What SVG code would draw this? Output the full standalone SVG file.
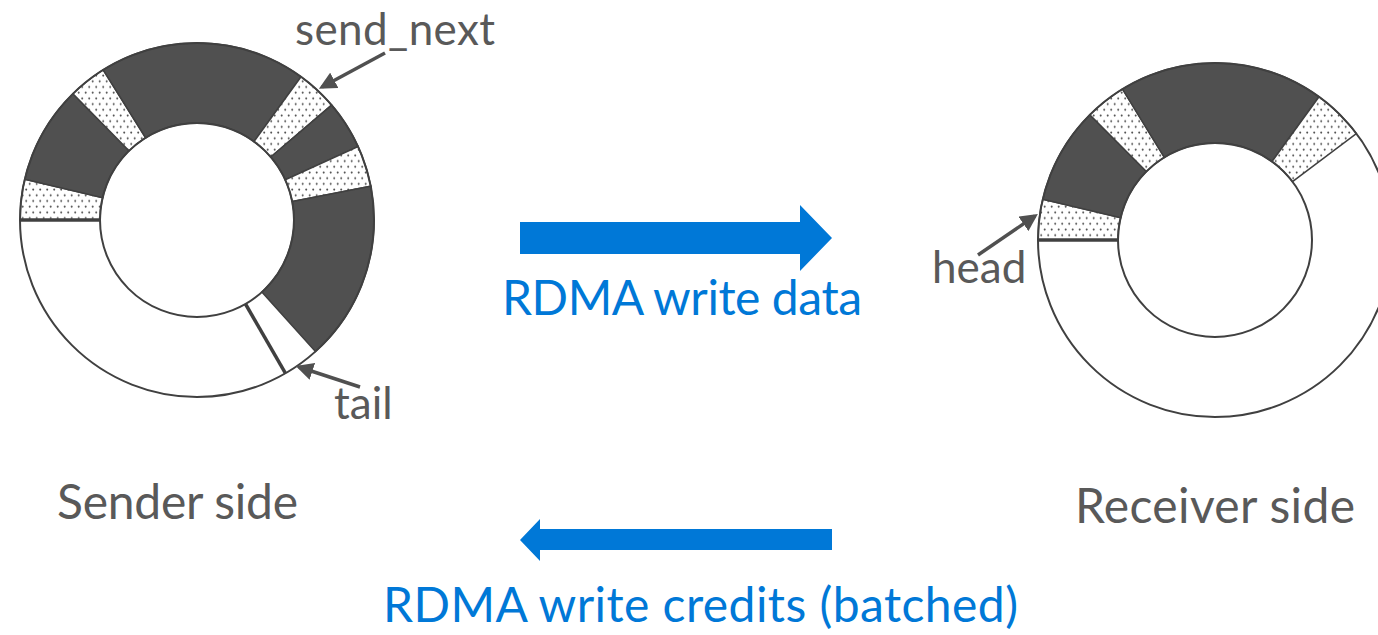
<svg xmlns="http://www.w3.org/2000/svg" width="1378" height="635" viewBox="0 0 1378 635">
  <style>
    .label { font-family: Lato, "Liberation Sans", sans-serif; font-size: 44px; fill: #595959; }
    .big { font-family: Lato, "Liberation Sans", sans-serif; font-size: 48px; fill: #595959; }
    .blue { font-family: Lato, "Liberation Sans", sans-serif; font-size: 48px; fill: #0078d7; }
    .dark { fill: #505050; stroke: #404040; stroke-width: 1.5; }
    .dot { fill: url(#dots); stroke: #404040; stroke-width: 1.5; }
    .rim { fill: none; stroke: #404040; stroke-width: 2; }
    .mark { stroke: #404040; stroke-width: 3.5; }
    .pointer { stroke: #505050; stroke-width: 3.5; fill: none; marker-end: url(#tip); }
    .flow { fill: #0078d7; }
  </style>
  <defs>
    <pattern id="dots" patternUnits="userSpaceOnUse" width="7" height="11.4">
      <rect width="7" height="11.4" fill="#ffffff"/>
      <circle cx="1.7" cy="1.5" r="1" fill="#505050"/>
      <circle cx="5.2" cy="7.2" r="1" fill="#505050"/>
    </pattern>
    <marker id="tip" viewBox="0 0 10 10" refX="8" refY="5" markerWidth="5" markerHeight="5" orient="auto" markerUnits="strokeWidth">
      <path d="M0,0 L10,5 L0,10 Z" fill="#505050"/>
    </marker>
  </defs>

  <!-- sender ring buffer -->
  <g id="sender-ring">
    <circle cx="197" cy="220" r="177" fill="#ffffff"/>
    <path class="dot" d="M20,220 A177,177 0 0 1 24.74,179.29 L102.60,197.69 A97,97 0 0 0 100,220 Z"/>
    <path class="dark" d="M24.74,179.29 A177,177 0 0 1 72.94,93.75 L129.01,150.81 A97,97 0 0 0 102.60,197.69 Z"/>
    <path class="dot" d="M72.94,93.75 A177,177 0 0 1 103.21,69.90 L145.60,137.74 A97,97 0 0 0 129.01,150.81 Z"/>
    <path class="dark" d="M103.21,69.90 A177,177 0 0 1 301.04,76.81 L254.02,141.53 A97,97 0 0 0 145.60,137.74 Z"/>
    <path class="dot" d="M301.04,76.81 A177,177 0 0 1 331.59,105.06 L270.76,157.01 A97,97 0 0 0 254.02,141.53 Z"/>
    <path class="dark" d="M331.59,105.06 A177,177 0 0 1 358.07,146.60 L285.27,179.77 A97,97 0 0 0 270.76,157.01 Z"/>
    <path class="dot" d="M358.07,146.60 A177,177 0 0 1 370.74,186.23 L292.22,201.49 A97,97 0 0 0 285.27,179.77 Z"/>
    <path class="dark" d="M370.74,186.23 A177,177 0 0 1 315.43,351.53 L261.90,292.08 A97,97 0 0 0 292.22,201.49 Z"/>
    <circle class="rim" cx="197" cy="220" r="177"/>
    <circle class="rim" cx="197" cy="220" r="97"/>
    <line class="mark" x1="20" y1="220" x2="100" y2="220"/>
    <line class="mark" x1="285.5" y1="373.28" x2="245.5" y2="304"/>
  </g>

  <!-- receiver ring buffer -->
  <g id="receiver-ring">
    <circle cx="1215" cy="240" r="177" fill="#ffffff"/>
    <path class="dot" d="M1038,240 A177,177 0 0 1 1042.74,199.29 L1120.60,217.69 A97,97 0 0 0 1118,240 Z"/>
    <path class="dark" d="M1042.74,199.29 A177,177 0 0 1 1089.84,114.84 L1146.41,171.41 A97,97 0 0 0 1120.60,217.69 Z"/>
    <path class="dot" d="M1089.84,114.84 A177,177 0 0 1 1122.52,89.09 L1164.32,157.30 A97,97 0 0 0 1146.41,171.41 Z"/>
    <path class="dark" d="M1122.52,89.09 A177,177 0 0 1 1319.04,96.81 L1272.02,161.53 A97,97 0 0 0 1164.32,157.30 Z"/>
    <path class="dot" d="M1319.04,96.81 A177,177 0 0 1 1356.35,133.48 L1292.46,181.63 A97,97 0 0 0 1272.02,161.53 Z"/>
    <circle class="rim" cx="1215" cy="240" r="177"/>
    <circle class="rim" cx="1215" cy="240" r="97"/>
    <line class="mark" x1="1038" y1="240" x2="1118" y2="240"/>
  </g>

  <!-- pointer labels -->
  <g id="send-next">
    <text class="label" x="295" y="45" textLength="200">send_next</text>
  </g>
  <g id="tail">
    <text class="label" x="334" y="419">tail</text>
  </g>
  <g id="head">
    <text class="label" x="932" y="283">head</text>
  </g>
  <g id="sender-side">
    <text class="big" x="57" y="519" textLength="241">Sender side</text>
  </g>
  <g id="receiver-side">
    <text class="big" x="1075" y="523" textLength="280">Receiver side</text>
  </g>

  <!-- connectors -->
  <g id="connectors">
    <line class="pointer" x1="385" y1="53" x2="322" y2="87"/>
    <line class="pointer" x1="360" y1="387" x2="299" y2="367"/>
    <line class="pointer" x1="978" y1="255" x2="1035" y2="216"/>
    <g id="write-data">
      <path class="flow" d="M520,222 L800,222 L800,205 L832,238 L800,271 L800,254 L520,254 Z"/>
      <text class="blue" x="502" y="315" textLength="360">RDMA write data</text>
    </g>
    <g id="write-credits">
      <path class="flow" d="M832,529 L540,529 L540,519 L520,540 L540,561 L540,550 L832,550 Z"/>
      <text class="blue" x="383" y="622" textLength="635">RDMA write credits (batched)</text>
    </g>
  </g>
</svg>
